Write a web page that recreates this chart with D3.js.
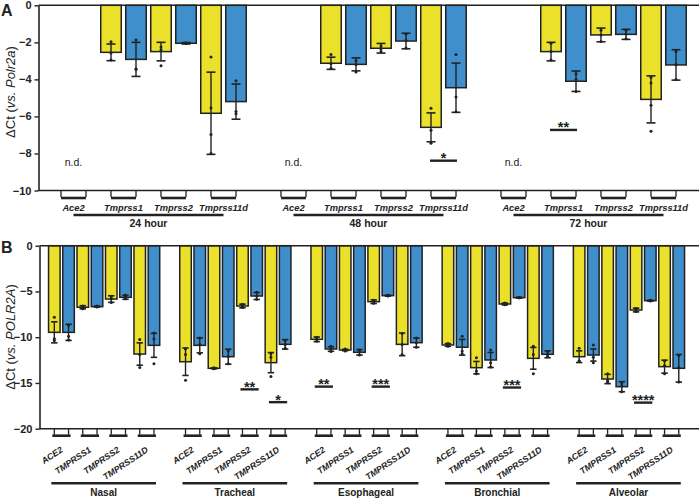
<!DOCTYPE html>
<html><head><meta charset="utf-8">
<script src="https://cdn.jsdelivr.net/npm/d3@7/dist/d3.min.js"></script>
<style>
body{margin:0;background:#fff;}
svg{display:block;font-family:"Liberation Sans",Arial,sans-serif;}
</style></head>
<body><svg id="chart" width="700" height="500"></svg>
<script>
// ---------------- DATA ----------------
const series = ["yellow","blue"];
const colors = {yellow:"#ebe12b", blue:"#3e8fcb"};

// Panel A
const timesA = ["24 hour","48 hour","72 hour"];
const genesA = ["Ace2","Tmprss1","Tmprss2","Tmprss11d"];
const yTicksA = [0,-2,-4,-6,-8,-10];
const yellowMeanA = [[null,-2.54,-2.5,-5.83],[null,-3.13,-2.32,-6.59],[null,-2.5,-1.6,-5.08]];
const yellowSdA   = [[null,0.45,0.5,2.22],[null,0.33,0.26,0.78],[null,0.5,0.37,1.27]];
const blueMeanA   = [[null,-2.92,-2.05,-5.2],[null,-3.19,-1.93,-4.45],[null,-4.1,-1.57,-3.22]];
const blueSdA     = [[null,0.92,0.04,0.95],[null,0.35,0.42,1.33],[null,0.55,0.27,0.82]];
const yellowPtsA = [
  [[],[-1.97,-2.58,-2.95],[-2.25,-2.4,-3.26],[-2.79,-5.54,-6.97,-8.0]],
  [[],[-2.65,-3.15,-3.4],[-2.2,-2.35,-2.5],[-5.56,-6.75,-7.45]],
  [[],[-2.05,-2.5,-2.95],[-1.35,-1.6,-1.95],[-3.9,-4.2,-5.4,-6.8]]];
const bluePtsA = [
  [[],[-1.87,-3.44,-3.45],[-2.04,-2.05,-2.06],[-4.07,-5.74,-5.85]],
  [[],[-2.99,-3.2,-3.6],[-1.55,-1.9,-2.3],[-2.65,-4.95,-5.75]],
  [[],[-3.7,-4.0,-4.65],[-1.35,-1.55,-1.8],[-2.5,-3.2,-4.0]]];
const sigA = [{group:1,gene:3,label:"*",y:-8.39},{group:2,gene:1,label:"**",y:-6.73}];
const ndLabelA = "n.d.";
const ndYA = -8.5;

// Panel B
const tissuesB = ["Nasal","Tracheal","Esophageal","Bronchial","Alveolar"];
const genesB = ["ACE2","TMPRSS1","TMPRSS2","TMPRSS11D"];
const yTicksB = [0,-5,-10,-15,-20];
const yellowMeanB = [[-9.47,-6.73,-5.83,-11.84],[-12.68,-13.4,-6.59,-12.78],[-10.23,-11.4,-6.12,-10.78],[-10.85,-13.33,-6.37,-12.31],[-12.13,-14.57,-7.03,-13.22]];
const yellowSdB   = [[1.15,0.17,0.36,1.22],[1.5,0.05,0.2,1.1],[0.25,0.08,0.2,1.24],[0.15,0.68,0.1,1.19],[0.64,0.51,0.2,0.71]];
const blueMeanB   = [[-9.47,-6.66,-5.64,-10.89],[-10.89,-12.13,-5.5,-10.78],[-11.29,-11.65,-5.46,-10.6],[-11.1,-12.49,-5.68,-11.87],[-11.95,-15.41,-6.01,-13.4]];
const blueSdB     = [[0.88,0.05,0.22,1.31],[0.82,0.82,0.38,0.52],[0.25,0.3,0.05,0.5],[0.86,0.82,0.05,0.38],[0.66,0.55,0.05,1.51]];
const yellowPtsB = [
  [[-7.83,-10.16,-10.35],[-6.6,-6.8,-6.9],[-5.6,-5.8,-6.2],[-10.25,-11.9,-13.3]],
  [[-11.3,-11.9,-14.7],[-13.35,-13.4,-13.45],[-6.4,-6.6,-6.75],[-11.8,-12.2,-14.3]],
  [[-10.0,-10.2,-10.45],[-11.3,-11.4,-11.5],[-5.95,-6.1,-6.3],[-9.6,-10.8,-11.9]],
  [[-10.7,-10.85,-11.0],[-12.24,-13.7,-14.0],[-6.25,-6.35,-6.45],[-11.0,-11.9,-14.0]],
  [[-11.2,-12.6,-12.6],[-14.0,-14.75,-14.95],[-6.85,-7.0,-7.2],[-12.6,-13.1,-14.0]]];
const bluePtsB = [
  [[-8.7,-9.9,-10.3],[-6.6,-6.65,-6.7],[-5.4,-5.6,-5.8],[-9.55,-10.2,-12.9]],
  [[-10.1,-10.8,-11.8],[-11.5,-12.1,-12.9],[-5.1,-5.5,-5.85],[-10.4,-10.8,-11.2]],
  [[-11.0,-11.3,-11.55],[-11.4,-11.6,-11.95],[-5.4,-5.45,-5.5],[-10.1,-10.6,-11.1]],
  [[-9.9,-11.5,-11.8],[-11.4,-12.8,-13.25],[-5.65,-5.7,-5.7],[-11.6,-11.9,-12.1]],
  [[-10.85,-12.2,-12.8],[-15.0,-15.3,-15.95],[-5.95,-6.0,-6.05],[-12.0,-13.3,-14.9]]];
const sigB = [
  {group:1,gene:2,label:"**",y:-15.7},{group:1,gene:3,label:"*",y:-17.1},
  {group:2,gene:0,label:"**",y:-15.4},{group:2,gene:2,label:"***",y:-15.4},
  {group:3,gene:2,label:"***",y:-15.5},{group:4,gene:2,label:"****",y:-17.15}];

// ---------------- DRAW ----------------
const svg = d3.select("#chart");
const INK = "#222";
const FONT = '"Liberation Sans",Arial,sans-serif';

function buildBars(groups, genes, yM, yS, bM, bS, yP, bP){
  const out = [];
  groups.forEach((g,gi)=>genes.forEach((ge,ki)=>{
    out.push({g, ge, gi, ki, s:"yellow", mean:yM[gi][ki], sd:yS[gi][ki], pts:yP[gi][ki]});
    out.push({g, ge, gi, ki, s:"blue", mean:bM[gi][ki], sd:bS[gi][ki], pts:bP[gi][ki]});
  }));
  return out;
}

function panel(o){
  const G = svg.append("g");
  const y = o.y, xG = o.xG, xK = o.xK, xS = o.xS;
  const cx = d => xG(d.g) + xK(d.ge) + xS(d.s) + xS.bandwidth()/2;
  const pairC = (g,ge) => xG(g) + xK(ge) + xK.bandwidth()/2;
  const y0 = y(0), yb = y(o.yMin);

  const bars = o.bars.filter(d=>d.mean!==null);
  G.selectAll("rect.bar").data(bars).join("rect")
    .attr("x", d=>xG(d.g)+xK(d.ge)+xS(d.s))
    .attr("width", xS.bandwidth())
    .attr("y", y0)
    .attr("height", d=>y(d.mean)-y0)
    .attr("fill", d=>colors[d.s])
    .attr("stroke", INK).attr("stroke-width", 1.5);

  const eb = G.selectAll("g.eb").data(bars).join("g");
  eb.append("line").attr("x1",cx).attr("x2",cx)
    .attr("y1",d=>y(d.mean+d.sd)).attr("y2",d=>y(d.mean-d.sd))
    .attr("stroke",INK).attr("stroke-width",1.4);
  [1,-1].forEach(sgn=>{
    eb.append("line").attr("x1",d=>cx(d)-o.cap).attr("x2",d=>cx(d)+o.cap)
      .attr("y1",d=>y(d.mean+sgn*d.sd)).attr("y2",d=>y(d.mean+sgn*d.sd))
      .attr("stroke",INK).attr("stroke-width",1.6);
  });
  const pts = bars.flatMap(d=>d.pts.map(v=>({x:cx(d), v})));
  G.selectAll("circle.pt").data(pts).join("circle")
    .attr("cx",d=>d.x).attr("cy",d=>y(d.v)).attr("r",1.5).attr("fill",INK);

  G.append("line").attr("x1",o.axisX).attr("x2",699).attr("y1",y0).attr("y2",y0)
    .attr("stroke",INK).attr("stroke-width",1.6);
  G.append("line").attr("x1",o.axisX).attr("x2",699).attr("y1",yb).attr("y2",yb)
    .attr("stroke",INK).attr("stroke-width",1.6);

  const ax = G.append("g").attr("transform",`translate(${o.axisX},0)`)
    .call(d3.axisLeft(y).tickValues(o.ticks).tickSize(4).tickSizeOuter(0).tickPadding(3).tickFormat(d3.format("d")));
  ax.select(".domain").attr("stroke",INK).attr("stroke-width",1.6);
  ax.selectAll(".tick line").attr("stroke",INK).attr("stroke-width",1.4);
  ax.selectAll(".tick text").attr("font-family",FONT).attr("font-size",11)
    .attr("font-weight","bold").attr("fill",INK);

  G.selectAll("line.xt").data(o.bars).join("line")
    .attr("x1",cx).attr("x2",cx).attr("y1",yb).attr("y2",yb+o.tickLen)
    .attr("stroke",INK).attr("stroke-width",1.3);
  const pairs = o.groups.flatMap(g=>o.genes.map(ge=>({g,ge})));
  G.selectAll("line.pl").data(pairs).join("line")
    .attr("x1",d=>xG(d.g)+xK(d.ge)+xS("yellow")+xS.bandwidth()/2-o.pairExt)
    .attr("x2",d=>xG(d.g)+xK(d.ge)+xS("blue")+xS.bandwidth()/2+o.pairExt)
    .attr("y1",yb+o.tickLen+1).attr("y2",yb+o.tickLen+1)
    .attr("stroke",INK).attr("stroke-width",2.6);
  o.groups.forEach(g=>{
    const x1 = o.groupLineStart(g), x2 = o.groupLineEnd(g);
    G.append("line").attr("x1",x1).attr("x2",x2).attr("y1",o.groupLineY).attr("y2",o.groupLineY)
      .attr("stroke",INK).attr("stroke-width",2.6);
    G.append("text").attr("x",(x1+x2)/2).attr("y",o.groupLabelY).attr("text-anchor","middle")
      .attr("font-family",FONT).attr("font-size",o.groupFont).attr("font-weight","bold").attr("fill",INK)
      .text(g);
  });
  pairs.forEach(p=>{ o.geneLabel(G, p, pairC(p.g,p.ge), yb); });
  o.sig.forEach(s=>{
    const g = o.groups[s.group], ge = o.genes[s.gene];
    const x1 = xG(g)+xK(ge)+xS("yellow")+xS.bandwidth()/2 - o.sigExt;
    const x2 = xG(g)+xK(ge)+xS("blue")+xS.bandwidth()/2 + o.sigExt;
    G.append("line").attr("x1",x1).attr("x2",x2).attr("y1",y(s.y)).attr("y2",y(s.y))
      .attr("stroke",INK).attr("stroke-width",2.4);
    G.append("text").attr("x",(x1+x2)/2).attr("y",y(s.y)+2.5).attr("text-anchor","middle")
      .attr("font-family",FONT).attr("font-size",14.5).attr("font-weight","bold").attr("fill",INK)
      .text(s.label);
  });
  return {G, pairC};
}

// ---- Panel A ----
const yA = d3.scaleLinear().domain([-10,0]).range([190.5,5.3]);
const xGA = d3.scaleBand().domain(timesA).range([48.5,688.5]).paddingInner(20/220).paddingOuter(0);
const xKA = d3.scaleBand().domain(genesA).range([0,xGA.bandwidth()]);
const xSA = d3.scaleBand().domain(series).range([0,xKA.bandwidth()]).paddingInner(0.18).paddingOuter(0.09);
const pA = panel({
  y:yA, xG:xGA, xK:xKA, xS:xSA, yMin:-10, ticks:yTicksA, axisX:38.5, cap:4.5,
  bars: buildBars(timesA, genesA, yellowMeanA, yellowSdA, blueMeanA, blueSdA, yellowPtsA, bluePtsA),
  groups:timesA, genes:genesA, tickLen:6.5, pairExt:0, sigExt:1,
  groupLineStart: g=>xGA(g)+xKA(genesA[0])+xKA.bandwidth()/2,
  groupLineEnd: g=>xGA(g)+xKA(genesA[3])+xKA.bandwidth()/2,
  groupLineY:215, groupLabelY:226.7, groupFont:10.5,
  geneLabel:(G,p,x,yb)=>{
    G.append("text").attr("x",x).attr("y",210.7).attr("text-anchor","middle")
      .attr("font-family",FONT).attr("font-size",9.3).attr("font-weight","bold")
      .attr("font-style","italic").attr("fill",INK).text(p.ge);
  },
  sig:sigA
});
timesA.forEach((t,ti)=>genesA.forEach((ge,ki)=>{
  if(yellowMeanA[ti][ki]===null && blueMeanA[ti][ki]===null){
    pA.G.append("text").attr("x",pA.pairC(t,ge)).attr("y",yA(ndYA)+3.7).attr("text-anchor","middle")
      .attr("font-family",FONT).attr("font-size",10.5).attr("fill",INK).text(ndLabelA);
  }
}));

// ---- Panel B ----
const yB = d3.scaleLinear().domain([-20,0]).range([428.7,245.7]);
const xGB = d3.scaleBand().domain(tissuesB).range([47.2,685.9]).paddingInner(0.132).paddingOuter(0);
const xKB = d3.scaleBand().domain(genesB).range([0,xGB.bandwidth()]);
const xSB = d3.scaleBand().domain(series).range([0,xKB.bandwidth()]).paddingInner(0.19).paddingOuter(0.095);
panel({
  y:yB, xG:xGB, xK:xKB, xS:xSB, yMin:-20, ticks:yTicksB, axisX:39.5, cap:3.2,
  bars: buildBars(tissuesB, genesB, yellowMeanB, yellowSdB, blueMeanB, blueSdB, yellowPtsB, bluePtsB),
  groups:tissuesB, genes:genesB, tickLen:6, pairExt:2, sigExt:2,
  groupLineStart: g=>xGB(g)+xKB(genesB[0])+xSB("yellow")+xSB.bandwidth()/2-3,
  groupLineEnd: g=>xGB(g)+xKB(genesB[3])+xSB("blue")+xSB.bandwidth()/2+2,
  groupLineY:483.3, groupLabelY:495.5, groupFont:10,
  geneLabel:(G,p,x,yb)=>{
    G.append("text").attr("transform",`translate(${x+2},${yb+22.5}) rotate(-34)`)
      .attr("text-anchor","end")
      .attr("font-family",FONT).attr("font-size",8.8).attr("font-weight","bold")
      .attr("font-style","italic").attr("fill",INK).text(p.ge);
  },
  sig:sigB
});

// ---- titles & panel letters ----
function yTitle(x,yc,gene){
  const t = svg.append("text").attr("transform",`translate(${x},${yc}) rotate(-90)`)
    .attr("text-anchor","middle").attr("font-family",FONT).attr("font-size",13).attr("fill",INK);
  t.append("tspan").text("\u0394Ct (");
  t.append("tspan").attr("font-style","italic").text("vs.");
  t.append("tspan").text(" ");
  t.append("tspan").attr("font-style","italic").text(gene);
  t.append("tspan").text(")");
}
yTitle(15,92,"Polr2a");
yTitle(15,337,"POLR2A");
svg.append("text").attr("x",1).attr("y",15.5).attr("font-family",FONT).attr("font-size",16)
  .attr("font-weight","bold").attr("fill",INK).text("A");
svg.append("text").attr("x",1).attr("y",253).attr("font-family",FONT).attr("font-size",16)
  .attr("font-weight","bold").attr("fill",INK).text("B");
</script></body></html>
